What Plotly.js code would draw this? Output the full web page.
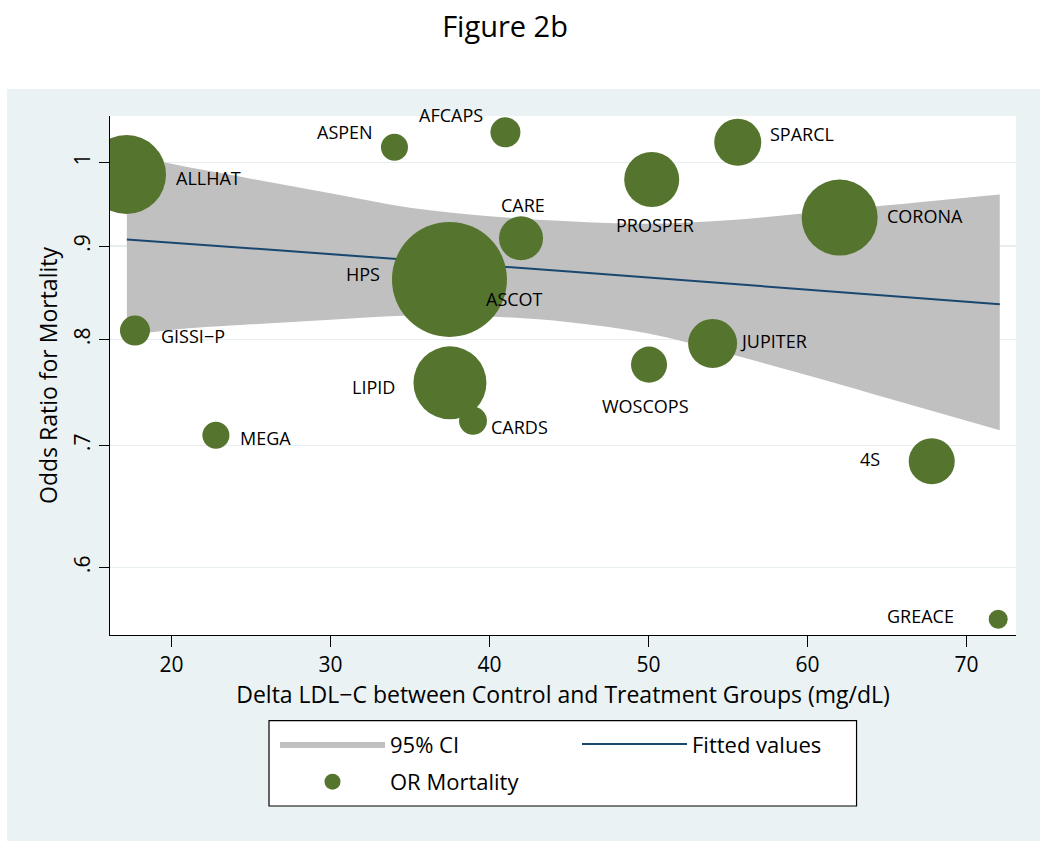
<!DOCTYPE html>
<html>
<head>
<meta charset="utf-8">
<script src="https://cdn.plot.ly/plotly-3.0.1.min.js"></script>
<style>
  html, body { margin: 0; padding: 0; background: #fff; }
  #chart { width: 1050px; height: 849px; }
</style>
</head>
<body>
<div id="chart"></div>
<script>
// trials: delta LDL-C (mg/dL), odds ratio for mortality, relative weight
var studies = ['ALLHAT', 'GISSI\u2212P', 'MEGA', 'ASPEN', 'AFCAPS', 'ASCOT', 'HPS', 'LIPID', 'CARDS',
               'CARE', 'WOSCOPS', 'PROSPER', 'JUPITER', 'SPARCL', 'CORONA', '4S', 'GREACE'];
var deltaLDL = [17.18, 17.71, 22.8, 34.03, 41.01, 38.3, 37.49, 37.52, 38.97,
                41.99, 50.04, 50.21, 54.04, 55.62, 62.03, 67.82, 72.0];
var oddsRatio = [0.985, 0.809, 0.709, 1.0195, 1.039, 0.843, 0.863, 0.7574, 0.722,
                 0.909, 0.775, 0.979, 0.796, 1.026, 0.933, 0.686, 0.562];
var weight = [62.4, 9.0, 7.3, 7.3, 9.0, 9.0, 132.3, 53.3, 7.8,
              19.4, 13.0, 30.3, 24.0, 22.1, 57.8, 21.2, 3.6];

// linear fit and 95% CI band
var fitX = [17.2, 20, 25, 30, 35, 40, 45, 50, 55, 60, 65, 72.1];
var fitted = [0.9077, 0.9041, 0.8976, 0.8911, 0.8846, 0.8781, 0.8716, 0.8651, 0.8586, 0.8521, 0.8456, 0.8364];
var ciUpper = [1.012, 0.9985, 0.980, 0.962, 0.9446, 0.9346, 0.9287, 0.9257, 0.9298, 0.9384, 0.9475, 0.9605];
var ciLower = [0.8036, 0.8097, 0.8154, 0.8202, 0.8246, 0.8236, 0.8177, 0.8060, 0.7860, 0.7646, 0.7430, 0.7134];

var yTicks = [0.6, 0.7, 0.8, 0.9, 1];
var yTickText = ['.6', '.7', '.8', '.9', '1'];
var xTicks = [20, 30, 40, 50, 60, 70];

// label placement (stata style clock positions), px offsets from marker centre
var labAnchor = ['left', 'left', 'left', 'right', 'right', 'left', 'right', 'right', 'left',
                 'center', 'center', 'center', 'left', 'left', 'left', 'right', 'right'];
var labDx = [47, 24, 22, -19, -20, 22, -67, -53, 16, 2, -4, 3, 25, 30, 45, -50, -42];
var labDy = [-3, -5, -2.5, 15.6, 17.6, -1, 5.8, -4, -6.3, 33, -41.4, -45.8, 2.9, 7.9, 1.8, 2.7, 3.2];

var green = '#55752f';
var font = 'Open Sans, sans-serif';

var traces = [
  {
    x: fitX, y: ciLower, mode: 'lines', type: 'scatter',
    line: {width: 0, color: '#c0c0c0', shape: 'spline'},
    showlegend: false, hoverinfo: 'skip', legendgroup: 'ci'
  },
  {
    x: fitX, y: ciUpper, mode: 'lines', type: 'scatter',
    name: '95% CI', fill: 'tonexty', fillcolor: '#c0c0c0', legendgroup: 'ci',
    line: {width: 0, color: '#c0c0c0', shape: 'spline'}
  },
  {
    x: fitX, y: fitted, mode: 'lines', type: 'scatter',
    name: 'Fitted values', legend: 'legend2',
    line: {color: '#1a476f', width: 2}
  },
  {
    x: deltaLDL, y: oddsRatio, text: studies, mode: 'markers', type: 'scatter',
    name: 'OR Mortality', legendgroup: 'or',
    marker: {color: green, opacity: 1, size: weight, sizemode: 'area', sizeref: 0.02, line: {width: 0}}
  }
];

var annotations = studies.map(function (s, i) {
  return {
    x: deltaLDL[i], y: Math.log10(oddsRatio[i]), xref: 'x', yref: 'y',
    text: s, showarrow: false,
    xanchor: labAnchor[i], yanchor: 'middle',
    xshift: labDx[i], yshift: labDy[i],
    font: {family: font, size: 18, color: '#000'}
  };
});

var legendBase = {
  xanchor: 'left', yanchor: 'top', y: -0.170,
  bgcolor: 'rgba(0,0,0,0)', borderwidth: 0,
  font: {size: 22}, itemwidth: 105, tracegroupgap: 6
};

var layout = {
  width: 1050, height: 849,
  margin: {l: 110, r: 34, t: 116, b: 214},
  paper_bgcolor: '#fff',
  plot_bgcolor: 'rgba(0,0,0,0)',
  font: {family: font, color: '#000'},
  title: {
    text: 'Figure 2b', x: 0.481, xanchor: 'center', y: 0.968, yanchor: 'middle',
    font: {family: font, size: 29, color: '#000'}
  },
  shapes: [
    {type: 'rect', xref: 'paper', yref: 'paper', x0: -0.1137, x1: 1.0265, y0: -0.3969, y1: 1.052,
     fillcolor: '#eaf2f3', line: {width: 0}, layer: 'below'},
    {type: 'rect', xref: 'paper', yref: 'paper', x0: 0, x1: 1, y0: 0, y1: 1,
     fillcolor: '#fff', line: {width: 0}, layer: 'below'},
    // legend frame
    {type: 'rect', xref: 'paper', yref: 'paper', x0: 0.1755, x1: 0.824, y0: -0.3295, y1: -0.1651,
     fillcolor: '#fff', line: {width: 1.2, color: '#000'}, layer: 'below'}
  ],
  xaxis: {
    range: [16.14, 73.12],
    tickvals: xTicks,
    ticks: 'outside', ticklen: 11, tickwidth: 1.2, tickcolor: '#000',
    showline: true, linecolor: '#000', linewidth: 1.2,
    showgrid: false, zeroline: false, layer: 'above traces',
    tickfont: {size: 21},
    title: {text: 'Delta LDL\u2212C between Control and Treatment Groups (mg/dL)', font: {size: 23}, standoff: 6}
  },
  yaxis: {
    type: 'log',
    range: [Math.log10(0.551), Math.log10(1.0606)],
    tickvals: yTicks, ticktext: yTickText, tickangle: -90,
    ticks: 'outside', ticklen: 10, tickwidth: 1.2, tickcolor: '#000',
    showline: true, linecolor: '#000', linewidth: 1.2,
    showgrid: true, gridcolor: '#e6eef0', gridwidth: 1.5,
    zeroline: false, layer: 'above traces',
    tickfont: {size: 21},
    title: {text: 'Odds Ratio for Mortality', font: {size: 23}, standoff: 4}
  },
  legend: Object.assign({x: (275 - 110) / 906}, legendBase),
  legend2: Object.assign({x: (577 - 110) / 906}, legendBase),
  annotations: annotations,
  showlegend: true
};

Plotly.newPlot('chart', traces, layout, {displayModeBar: false, staticPlot: true});
</script>
</body>
</html>
